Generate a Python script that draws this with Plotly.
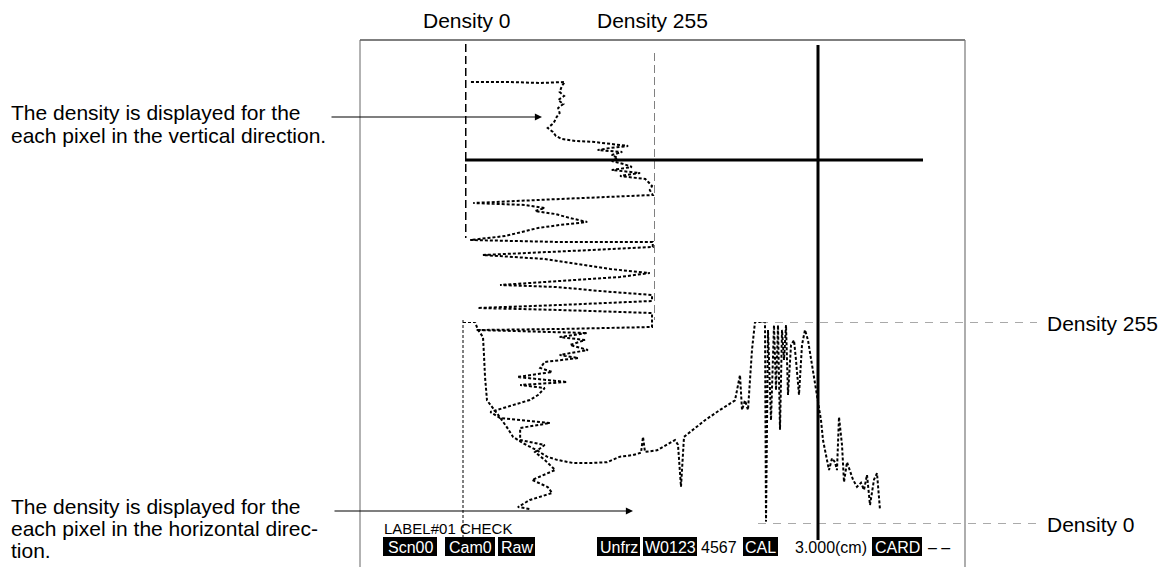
import plotly.graph_objects as go

W, H = 1162, 567
FONT = "Liberation Sans, Arial, Helvetica, sans-serif"

# ---- Vertical-direction density profile (row in image, density 0-255) ----
v_rows = [42, 42, 43, 42, 46, 52, 56, 60, 64, 68, 73, 77, 83, 88, 92, 96, 99, 101, 102, 104,
          106, 108, 110, 112, 115, 118, 121, 124, 127, 130, 133, 136, 139, 142, 146, 150, 155,
          159, 163, 165, 168, 171, 174, 178, 182, 185, 188, 192, 196, 200, 202, 202, 207, 211,
          215, 219, 224, 229, 233, 237, 241, 245, 247, 251, 255, 261, 265, 268, 270, 273, 280,
          287, 289, 290, 293, 297, 300, 305, 310, 315, 318, 322, 328, 332, 337, 342, 345, 348,
          355, 360, 367, 372, 378, 383, 388, 400, 405, 412, 420, 430, 440, 447, 453, 460, 467, 469]
v_density = [8, 60, 101, 134, 130, 127, 133, 125, 132, 125, 127, 123, 119, 111, 118, 122, 130, 148, 174, 197,
             219, 195, 178, 211, 197, 205, 197, 213, 224, 197, 235, 208, 242, 246, 251, 248, 252,
             127, 11, 81, 107, 94, 121, 141, 164, 127, 98, 76, 54, 7, 127, 252, 252, 141,
             24, 107, 148, 195, 248, 208, 127, 47, 123, 181, 251, 251, 127, 17, 127, 251, 251,
             251, 127, 15, 164, 127, 161, 141, 165, 127, 152, 107, 101, 117, 70, 137, 74, 107,
             98, 87, 56, 34, 47, 114, 74, 74, 107, 94, 107, 121, 90, 111, 117, 87, 71, 87]

# ---- Horizontal-direction density profile (column in image, density 0-255) ----
h_cols = [103, 115, 118, 123, 124, 125, 127, 132, 138, 147, 153, 163, 177, 187, 197, 213, 230,
          247, 260, 273, 281, 283, 285, 297, 307, 315, 318, 321, 324, 335, 345, 360, 375, 380,
          382, 385, 388, 392, 395, 405, 406, 408, 411, 414, 416, 418, 420, 422, 424, 426, 428,
          431, 434, 436, 439, 442, 445, 448, 452, 455, 458, 461, 463, 466, 469, 472, 475, 477,
          479, 482, 484, 487, 490, 493, 497, 501, 504, 507, 510, 514, 517, 520]
h_density = [255, 255, 245, 236, 213, 186, 156, 148, 138, 122, 110, 102, 93, 85, 81, 77, 77,
             78, 85, 87, 90, 110, 91, 93, 100, 106, 100, 47, 110, 121, 131, 144, 156, 188,
             144, 156, 144, 220, 255, 255, 3, 245, 131, 251, 169, 251, 119, 245, 207, 251, 163,
             226, 232, 207, 163, 226, 245, 232, 201, 175, 150, 131, 106, 87, 68, 83, 78, 68,
             135, 100, 53, 78, 68, 56, 47, 52, 43, 62, 24, 56, 64, 18]

# cursor position (column, row) and status-bar items
cursor_col, cursor_row = 458, 120
status_boxes = ["Scn00", "Cam0", "Raw", "Unfrz", "W0123", "CAL", "CARD"]
status_box_x = [(383, 437), (445, 495), (498, 535), (597, 640), (643, 697), (743, 778), (872, 922)]
status_plain = ["4567", "3.000(cm)", "– –"]
status_plain_x = [699, 793, 926]


def px(x):
    return x / W


def py(y):
    return 1 - y / H


fig = go.Figure()
fig.add_trace(go.Scatter(x=v_density, y=v_rows, xaxis="x2", yaxis="y", mode="lines",
                         line=dict(color="black", width=2, dash="3px,2px"),
                         hoverinfo="skip", showlegend=False))
fig.add_trace(go.Scatter(x=h_cols, y=h_density, xaxis="x", yaxis="y3", mode="lines",
                         line=dict(color="black", width=2, dash="3px,2px"),
                         hoverinfo="skip", showlegend=False))

shapes = []
# frame
shapes.append(dict(type="line", xref="paper", yref="paper", x0=px(360), x1=px(965), y0=py(40), y1=py(40),
                   line=dict(color="black", width=1.2)))
shapes.append(dict(type="line", xref="paper", yref="paper", x0=px(360), x1=px(360), y0=py(40), y1=0,
                   line=dict(color="#666", width=1)))
shapes.append(dict(type="line", xref="paper", yref="paper", x0=px(965), x1=px(965), y0=py(40), y1=0,
                   line=dict(color="#777", width=1.2)))
# density scale lines of the vertical profile
shapes.append(dict(type="line", xref="x2", yref="y", x0=0, x1=0, y0=4, y1=198,
                   line=dict(color="black", width=3, dash="8px,4px")))
shapes.append(dict(type="line", xref="x2", yref="y", x0=255, x1=255, y0=13, y1=280,
                   line=dict(color="black", width=1, dash="8px,4px")))
# density scale lines of the horizontal profile
shapes.append(dict(type="line", xref="x", yref="y3", x0=400, x1=677, y0=255, y1=255,
                   line=dict(color="#555", width=1, dash="8px,7px")))
shapes.append(dict(type="line", xref="x", yref="y3", x0=398, x1=677, y0=0, y1=0,
                   line=dict(color="#555", width=1, dash="8px,7px")))
# left edge of the horizontal profile
shapes.append(dict(type="line", xref="x", yref="y", x0=103, x1=103, y0=280, y1=500,
                   line=dict(color="black", width=1, dash="3px,2px")))
# cursor cross-hair
shapes.append(dict(type="line", xref="x", yref="y", x0=105, x1=563, y0=cursor_row, y1=cursor_row,
                   line=dict(color="black", width=3)))
shapes.append(dict(type="line", xref="x", yref="y", x0=cursor_col, x1=cursor_col, y0=5, y1=500,
                   line=dict(color="black", width=3)))
# status bar boxes
for (a, b) in status_box_x:
    shapes.append(dict(type="rect", xref="paper", yref="paper", x0=px(a), x1=px(b), y0=py(556), y1=py(537),
                       fillcolor="black", line=dict(width=0)))

ann = []


def text(t, x, y, size=21, xanchor="left", color="black"):
    ann.append(dict(text=t, x=px(x), y=py(y), xref="paper", yref="paper", showarrow=False,
                    xanchor=xanchor, yanchor="middle", font=dict(family=FONT, size=size, color=color)))


text("Density 0", 467, 20, xanchor="center")
text("Density 255", 653, 20, xanchor="center")
text("The density is displayed for the", 9, 113)
text("each pixel in the vertical direction.", 9, 135)
text("The density is displayed for the", 9, 506)
text("each pixel in the horizontal direc-", 9, 528)
text("tion.", 9, 550)
text("Density 255", 1045, 323)
text("Density 0", 1045, 524)
text("LABEL#01 CHECK", 382, 528, size=15)
for t, (a, b) in zip(status_boxes, status_box_x):
    text(t, (a + b) / 2, 547, size=16, xanchor="center", color="white")
for t, x in zip(status_plain, status_plain_x):
    text(t, x, 547, size=16)

# arrows
ann.append(dict(x=px(542), y=py(117), xref="paper", yref="paper", ax=-212, ay=0, text="",
                showarrow=True, arrowhead=2, arrowsize=1.3, arrowwidth=1.1, arrowcolor="black", standoff=0))
ann.append(dict(x=px(633), y=py(511), xref="paper", yref="paper", ax=-300, ay=0, text="",
                showarrow=True, arrowhead=2, arrowsize=1.3, arrowwidth=1.1, arrowcolor="black", standoff=0))

fig.update_layout(
    width=W, height=H, margin=dict(l=0, r=0, t=0, b=0),
    paper_bgcolor="white", plot_bgcolor="rgba(0,0,0,0)",
    xaxis=dict(domain=[0, 1], range=[-360, 802], visible=False, fixedrange=True),
    yaxis=dict(domain=[0, 1], range=[527, -40], visible=False, fixedrange=True),
    xaxis2=dict(domain=[px(465), px(655)], range=[0, 255], anchor="y", visible=False, fixedrange=True),
    yaxis3=dict(domain=[py(524), py(322)], range=[0, 255], anchor="x", visible=False, fixedrange=True),
    shapes=shapes, annotations=ann, showlegend=False,
)
fig.write_html("out.html", config={"displayModeBar": False},
               post_script="document.body.style.margin='0px';document.body.style.overflow='hidden';")
